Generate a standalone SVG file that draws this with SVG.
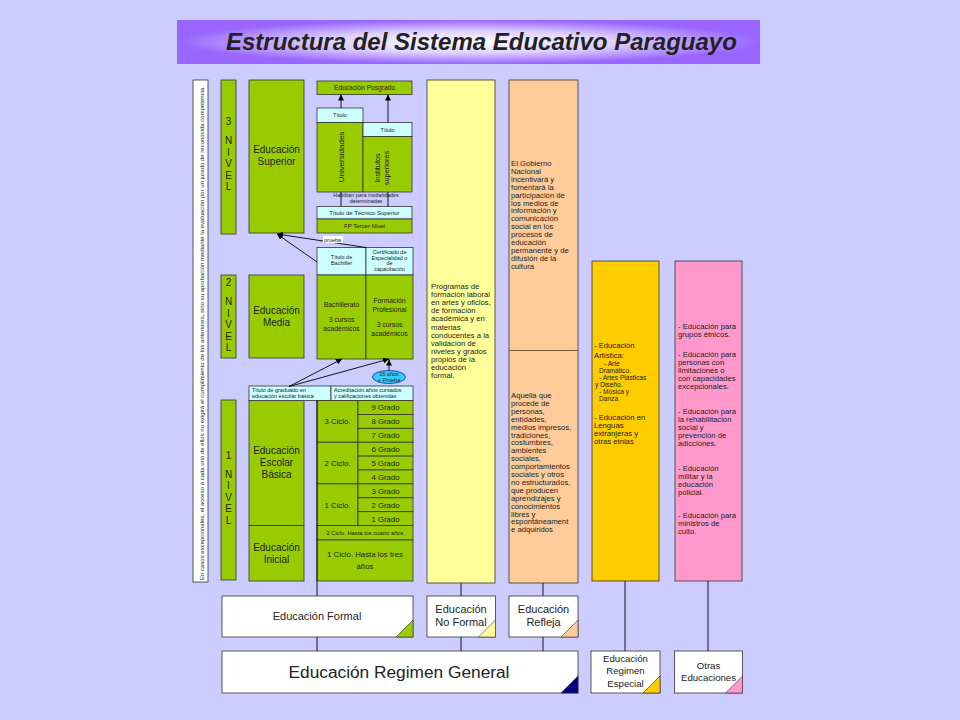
<svg xmlns="http://www.w3.org/2000/svg" width="960" height="720" viewBox="0 0 960 720">
<defs>
<radialGradient id="tg" cx="0.5" cy="0.5" r="0.5">
<stop offset="0" stop-color="#FFFFFF"/>
<stop offset="0.5" stop-color="#DDD0FF"/>
<stop offset="1" stop-color="#9966FF"/>
</radialGradient>
<marker id="ah" viewBox="0 0 10 10" refX="10" refY="5" markerUnits="userSpaceOnUse" markerWidth="6" markerHeight="6" orient="auto"><path d="M0,0 L10,5 L0,10 z" fill="#000"/></marker>
<style>
.t{font-family:"Liberation Sans",Arial,sans-serif;fill:#222}
.g{fill:#99CC00;stroke:#333;stroke-width:0.8}
.c{fill:#CCFFFF;stroke:#333;stroke-width:0.8}
.w{fill:#FFFFFF;stroke:#333;stroke-width:0.8}
.ln{stroke:#000;stroke-width:0.9;fill:none}
.ar{stroke:#000;stroke-width:0.9;fill:none;marker-end:url(#ah)}
.mid{text-anchor:middle}
.n10{font-size:10px}
.s55{font-size:5.5px}
.s78{font-size:7.8px}
.s76{font-size:7.7px}
</style>
</defs>
<rect width="960" height="720" fill="#CCCCFF"/>

<g id="title">
<rect x="177" y="20" width="583" height="44" fill="url(#tg)"/>
<text class="t" x="226" y="50" font-size="24" font-weight="bold" font-style="italic" fill="#000">Estructura del Sistema Educativo Paraguayo</text>
</g>

<g id="nota-excepcional">
<rect class="w" x="193" y="80" width="15" height="502"/>
<text class="t" transform="translate(203.5,580) rotate(-90)" font-size="5.3" textLength="494" lengthAdjust="spacingAndGlyphs">En casos excepcionales, el acceso a cada uno de ellos no exigirá el cumplimiento de los anteriores, sino su aprobación mediante la evaluación por un jurado de reconocida competencia.</text>
</g>

<g id="nivel3">
<rect class="g" x="221" y="80" width="15" height="154"/>
<text class="t mid n10"><tspan x="228.5" y="125">3</tspan><tspan x="228.5" y="144">N</tspan><tspan x="228.5" y="155.5">I</tspan><tspan x="228.5" y="167">V</tspan><tspan x="228.5" y="178.5">E</tspan><tspan x="228.5" y="190">L</tspan></text>
</g>
<g id="nivel2">
<rect class="g" x="221" y="275" width="15" height="83"/>
<text class="t mid n10"><tspan x="228.5" y="286">2</tspan><tspan x="228.5" y="305">N</tspan><tspan x="228.5" y="316.5">I</tspan><tspan x="228.5" y="328">V</tspan><tspan x="228.5" y="339.5">E</tspan><tspan x="228.5" y="351">L</tspan></text>
</g>
<g id="nivel1">
<rect class="g" x="221" y="400" width="15" height="180"/>
<text class="t mid n10"><tspan x="228.5" y="458.6">1</tspan><tspan x="228.5" y="477.6">N</tspan><tspan x="228.5" y="489.1">I</tspan><tspan x="228.5" y="500.6">V</tspan><tspan x="228.5" y="512.1">E</tspan><tspan x="228.5" y="523.6">L</tspan></text>
</g>

<g id="educacion-superior">
<rect class="g" x="249" y="80" width="55" height="153"/>
<text class="t mid n10"><tspan x="276.5" y="153">Educación</tspan><tspan x="276.5" y="165">Superior</tspan></text>
</g>
<g id="educacion-media">
<rect class="g" x="249" y="275" width="55" height="83"/>
<text class="t mid n10"><tspan x="276.5" y="314">Educación</tspan><tspan x="276.5" y="326">Media</tspan></text>
</g>
<g id="educacion-escolar-basica">
<rect class="g" x="249" y="400.5" width="55" height="125.1"/>
<text class="t mid n10"><tspan x="276.5" y="454">Educación</tspan><tspan x="276.5" y="466">Escolar</tspan><tspan x="276.5" y="478">Básica</tspan></text>
</g>
<g id="educacion-inicial">
<rect class="g" x="249" y="525.6" width="55" height="55.4"/>
<text class="t mid n10"><tspan x="276.5" y="550.5">Educación</tspan><tspan x="276.5" y="562.5">Inicial</tspan></text>
</g>

<g id="posgrado">
<rect class="g" x="317" y="81" width="95" height="13.5"/>
<text class="t mid" font-size="6.6" x="364.5" y="90.3">Educación Posgrado</text>
</g>
<g id="universidades">
<rect class="c" x="317" y="108" width="46" height="14.5"/>
<text class="t mid s55" x="340" y="117.3">Título</text>
<rect class="g" x="317" y="122.5" width="46" height="69.5"/>
<text class="t mid" font-size="8" transform="translate(343.5,157) rotate(-90)">Universidades</text>
</g>
<g id="institutos">
<rect class="c" x="363" y="122.5" width="49" height="14"/>
<text class="t mid s55" x="387.5" y="131.5">Título</text>
<rect class="g" x="363" y="136.5" width="49" height="55.5"/>
<text class="t mid" font-size="7.4" transform="translate(383,168) rotate(-90)"><tspan x="0" y="-3">Institutos</tspan><tspan x="0" y="6">superiores</tspan></text>
</g>
<g id="habilitan">
<text class="t mid" font-size="5.4" fill="#444"><tspan x="366" y="196.5">Habilitan para modalidades</tspan><tspan x="366" y="203">determinadas</tspan></text>
</g>
<g id="tecnico-superior">
<rect class="c" x="317" y="206.5" width="95" height="12.5"/>
<text class="t mid" font-size="6" x="364.5" y="214.8">Título de Técnico Superior</text>
<rect class="g" x="317" y="219" width="95" height="14"/>
<text class="t mid" font-size="6" x="364.5" y="228">FP Tercer Nivel</text>
</g>

<g id="bachiller">
<rect class="c" x="317" y="247.5" width="49" height="27.5"/>
<text class="t mid s55"><tspan x="341.5" y="259">Título de</tspan><tspan x="341.5" y="265">Bachiller</tspan></text>
<rect class="g" x="317" y="275" width="49" height="84"/>
<text class="t mid" font-size="6.8"><tspan x="341.5" y="307">Bachillerato</tspan><tspan x="341.5" y="322">3 cursos</tspan><tspan x="341.5" y="331">académicos</tspan></text>
</g>
<g id="formacion-profesional">
<rect class="c" x="366" y="247.5" width="47" height="27.5"/>
<text class="t mid s55"><tspan x="389.5" y="254">Certificado de</tspan><tspan x="389.5" y="259.7">Especialidad o</tspan><tspan x="389.5" y="265.4">de</tspan><tspan x="389.5" y="271.1">capacitación</tspan></text>
<rect class="g" x="366" y="275" width="47" height="84"/>
<text class="t mid" font-size="6.8"><tspan x="389.5" y="302.5">Formación</tspan><tspan x="389.5" y="311.5">Profesional</tspan><tspan x="389.5" y="327">3 cursos</tspan><tspan x="389.5" y="336">académicos</tspan></text>
</g>
<g id="prueba-16">
<ellipse cx="389" cy="377" rx="16.5" ry="6.5" fill="#33CCFF" stroke="#003399" stroke-width="0.8"/>
<text class="t mid s55" fill="#000066"><tspan x="389" y="375.8">16 años</tspan><tspan x="389" y="382">+ Prueba</tspan></text>
</g>

<g id="titulo-basica">
<rect class="c" x="249" y="386" width="82" height="14.5"/>
<text class="t s55"><tspan x="252" y="391.8">Título de graduado en</tspan><tspan x="252" y="398">educación escolar básica</tspan></text>
<rect class="c" x="331" y="386" width="82" height="14.5"/>
<text class="t s55"><tspan x="334" y="391.8">Acreditación  años cursados</tspan><tspan x="334" y="398">y calificaciones obtenidas</tspan></text>
</g>

<g id="ciclos">
<rect class="g" x="317" y="400.5" width="41" height="41.7"/>
<text class="t mid s78" x="337.5" y="424.2">3 Ciclo.</text>
<rect class="g" x="317" y="442.2" width="41" height="41.7"/>
<text class="t mid s78" x="337.5" y="465.9">2 Ciclo.</text>
<rect class="g" x="317" y="483.9" width="41" height="41.7"/>
<text class="t mid s78" x="337.5" y="507.6">1 Ciclo.</text>
</g>
<g id="grados">
<rect class="g" x="358" y="400.5" width="55" height="13.9"/><text class="t mid s78" x="385.5" y="410.3">9 Grado</text>
<rect class="g" x="358" y="414.4" width="55" height="13.9"/><text class="t mid s78" x="385.5" y="424.2">8 Grado</text>
<rect class="g" x="358" y="428.3" width="55" height="13.9"/><text class="t mid s78" x="385.5" y="438.1">7 Grado</text>
<rect class="g" x="358" y="442.2" width="55" height="13.9"/><text class="t mid s78" x="385.5" y="452">6 Grado</text>
<rect class="g" x="358" y="456.1" width="55" height="13.9"/><text class="t mid s78" x="385.5" y="465.9">5 Grado</text>
<rect class="g" x="358" y="470" width="55" height="13.9"/><text class="t mid s78" x="385.5" y="479.8">4 Grado</text>
<rect class="g" x="358" y="483.9" width="55" height="13.9"/><text class="t mid s78" x="385.5" y="493.7">3 Grado</text>
<rect class="g" x="358" y="497.8" width="55" height="13.9"/><text class="t mid s78" x="385.5" y="507.6">2 Grado</text>
<rect class="g" x="358" y="511.7" width="55" height="13.9"/><text class="t mid s78" x="385.5" y="521.5">1 Grado</text>
</g>
<g id="inicial-ciclos">
<rect class="g" x="317" y="525.6" width="96" height="14.4"/>
<text class="t mid" font-size="5.8" x="365" y="534.8">2 Ciclo. Hasta los cuatro años</text>
<rect class="g" x="317" y="540" width="96" height="41"/>
<text class="t mid s78"><tspan x="365" y="557">1 Ciclo. Hasta los tres</tspan><tspan x="365" y="568.5">años</tspan></text>
</g>

<g id="col-no-formal">
<rect x="427" y="80" width="68" height="503" fill="#FFFF99" stroke="#333" stroke-width="0.8"/>
<text class="t s76"><tspan x="431" y="289">Programas de</tspan><tspan x="431" y="297.1">formación laboral</tspan><tspan x="431" y="305.2">en artes y oficios,</tspan><tspan x="431" y="313.3">de formación</tspan><tspan x="431" y="321.4">académica y en</tspan><tspan x="431" y="329.5">materias</tspan><tspan x="431" y="337.6">conducentes a la</tspan><tspan x="431" y="345.7">validación de</tspan><tspan x="431" y="353.8">niveles y grados</tspan><tspan x="431" y="361.9">propios de la</tspan><tspan x="431" y="370">educación</tspan><tspan x="431" y="378.1">formal.</tspan></text>
</g>

<g id="col-refleja">
<rect x="509" y="80" width="69" height="503" fill="#FFCC99" stroke="#333" stroke-width="0.8"/>
<line x1="509" y1="350.5" x2="578" y2="350.5" stroke="#7A5533" stroke-width="1.2"/>
<text class="t s76"><tspan x="511" y="166">El Gobierno</tspan><tspan x="511" y="173.9">Nacional</tspan><tspan x="511" y="181.8">incentivará y</tspan><tspan x="511" y="189.7">fomentará la</tspan><tspan x="511" y="197.6">participación de</tspan><tspan x="511" y="205.5">los medios de</tspan><tspan x="511" y="213.4">información y</tspan><tspan x="511" y="221.3">comunicación</tspan><tspan x="511" y="229.2">social en los</tspan><tspan x="511" y="237.1">procesos de</tspan><tspan x="511" y="245">educación</tspan><tspan x="511" y="252.9">permanente y de</tspan><tspan x="511" y="260.8">difusión de la</tspan><tspan x="511" y="268.7">cultura</tspan></text>
<text class="t s76"><tspan x="511" y="398">Aquella que</tspan><tspan x="511" y="405.9">procede de</tspan><tspan x="511" y="413.8">personas,</tspan><tspan x="511" y="421.7">entidades,</tspan><tspan x="511" y="429.6">medios impresos,</tspan><tspan x="511" y="437.5">tradiciones,</tspan><tspan x="511" y="445.4">costumbres,</tspan><tspan x="511" y="453.3">ambientes</tspan><tspan x="511" y="461.2">sociales,</tspan><tspan x="511" y="469.1">comportamientos</tspan><tspan x="511" y="477">sociales y otros</tspan><tspan x="511" y="484.9">no estructurados,</tspan><tspan x="511" y="492.8">que producen</tspan><tspan x="511" y="500.7">aprendizajes y</tspan><tspan x="511" y="508.6">conocimientos</tspan><tspan x="511" y="516.5">libres y</tspan><tspan x="511" y="524.4">espontáneament</tspan><tspan x="511" y="532.3">e adquiridos</tspan></text>
</g>

<g id="col-especial">
<rect x="592" y="261" width="67" height="320" fill="#FFCC00" stroke="#333" stroke-width="0.8"/>
<text class="t s76"><tspan x="594" y="348">- Educación</tspan><tspan x="594" y="358">Artística:</tspan></text>
<text class="t" font-size="6.6"><tspan x="604" y="365.5">- Arte</tspan><tspan x="599" y="372.5">Dramático.</tspan><tspan x="599" y="379.5">- Artes Plásticas</tspan><tspan x="595" y="386.5">y Diseño.</tspan><tspan x="599" y="393.5">- Música y</tspan><tspan x="599" y="400.5">Danza</tspan></text>
<text class="t s76"><tspan x="594" y="420">- Educación en</tspan><tspan x="594" y="428">Lenguas</tspan><tspan x="594" y="436">extranjeras y</tspan><tspan x="594" y="444">otras etnias</tspan></text>
</g>

<g id="col-otras">
<rect x="675" y="261" width="67" height="320" fill="#FF99CC" stroke="#333" stroke-width="0.8"/>
<text class="t s76"><tspan x="678" y="329">- Educación para</tspan><tspan x="678" y="337">grupos étnicos.</tspan><tspan x="678" y="357">- Educación para</tspan><tspan x="678" y="365">personas con</tspan><tspan x="678" y="373">limitaciones o</tspan><tspan x="678" y="381">con capacidades</tspan><tspan x="678" y="389">excepcionales.</tspan><tspan x="678" y="414">- Educación para</tspan><tspan x="678" y="422">la rehabilitación</tspan><tspan x="678" y="430">social y</tspan><tspan x="678" y="438">prevención de</tspan><tspan x="678" y="446">adicciones.</tspan><tspan x="678" y="471">- Educación</tspan><tspan x="678" y="479">militar y la</tspan><tspan x="678" y="487">educación</tspan><tspan x="678" y="495">policial.</tspan><tspan x="678" y="518">- Educación para</tspan><tspan x="678" y="526">ministros de</tspan><tspan x="678" y="534">culto.</tspan></text>
</g>

<g id="connectors">
<line class="ar" x1="341" y1="108" x2="341" y2="94.5"/>
<line class="ar" x1="388" y1="122.5" x2="388" y2="94.5"/>
<line class="ln" x1="341" y1="192" x2="341" y2="206.5"/>
<line class="ln" x1="388" y1="192" x2="388" y2="206.5"/>
<line class="ar" x1="317" y1="262" x2="277" y2="234"/>
<line class="ar" x1="366" y1="247.5" x2="277" y2="234"/>
<line class="ar" x1="289" y1="386.5" x2="342" y2="359"/>
<line class="ar" x1="289" y1="386.5" x2="389" y2="359"/>
<line class="ar" x1="389" y1="370.5" x2="389" y2="359.5"/>
<line class="ln" x1="317" y1="400.5" x2="317" y2="596"/>
<line class="ln" x1="317" y1="637" x2="317" y2="651"/>
<line class="ln" x1="461" y1="583" x2="461" y2="596"/>
<line class="ln" x1="461" y1="637" x2="461" y2="651"/>
<line class="ln" x1="543" y1="583" x2="543" y2="596"/>
<line class="ln" x1="543" y1="637" x2="543" y2="651"/>
<line class="ln" x1="625" y1="581" x2="625" y2="651"/>
<line class="ln" x1="708" y1="581" x2="708" y2="651"/>
</g>
<g id="prueba-label">
<rect x="323" y="236" width="20" height="7" fill="#FFFFFF"/>
<text class="t s55" x="324" y="241.6">prueba</text>
</g>

<g id="educacion-formal">
<rect class="w" x="222" y="596" width="191" height="41"/>
<path d="M413,620 L413,637 L396,637 z" fill="#99CC00" stroke="#333" stroke-width="0.6"/>
<text class="t mid" font-size="11" x="317" y="619.5">Educación Formal</text>
</g>
<g id="educacion-no-formal">
<rect class="w" x="427" y="596" width="68.5" height="41"/>
<path d="M495.5,620 L495.5,637 L478.5,637 z" fill="#FFFF99" stroke="#333" stroke-width="0.6"/>
<text class="t mid" font-size="11"><tspan x="461" y="613">Educación</tspan><tspan x="461" y="626.3">No Formal</tspan></text>
</g>
<g id="educacion-refleja">
<rect class="w" x="509" y="596" width="69" height="41"/>
<path d="M578,620 L578,637 L561,637 z" fill="#FFCC99" stroke="#333" stroke-width="0.6"/>
<text class="t mid" font-size="11"><tspan x="543.5" y="613">Educación</tspan><tspan x="543.5" y="626.3">Refleja</tspan></text>
</g>
<g id="regimen-general">
<rect class="w" x="222" y="651" width="356" height="42"/>
<path d="M578,676 L578,693 L561,693 z" fill="#000080" stroke="#333" stroke-width="0.6"/>
<text class="t mid" font-size="17.3" x="399" y="677.8">Educación Regimen General</text>
</g>
<g id="regimen-especial">
<rect class="w" x="591" y="651" width="69" height="42"/>
<path d="M660,676 L660,693 L643,693 z" fill="#FFCC00" stroke="#333" stroke-width="0.6"/>
<text class="t mid" font-size="9.6"><tspan x="625.5" y="661.5">Educación</tspan><tspan x="625.5" y="674">Regimen</tspan><tspan x="625.5" y="686.5">Especial</tspan></text>
</g>
<g id="otras-educaciones">
<rect class="w" x="674.5" y="651" width="68" height="42"/>
<path d="M742.5,676 L742.5,693 L725.5,693 z" fill="#FF99CC" stroke="#333" stroke-width="0.6"/>
<text class="t mid" font-size="9.6"><tspan x="708.5" y="669">Otras</tspan><tspan x="708.5" y="681">Educaciones</tspan></text>
</g>
</svg>
